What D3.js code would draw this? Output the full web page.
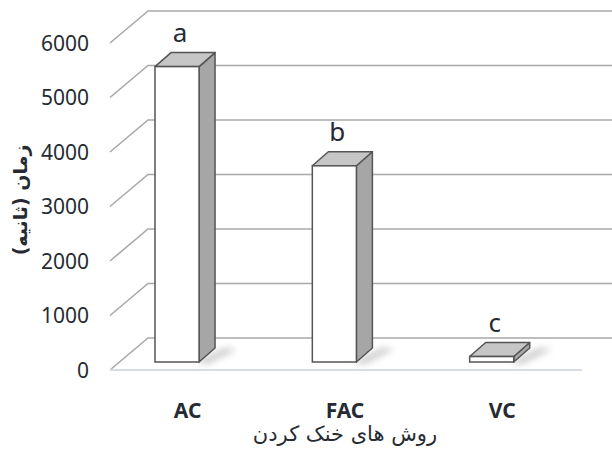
<!DOCTYPE html>
<html>
<head>
<meta charset="utf-8">
<script src="https://cdn.jsdelivr.net/npm/d3@7"></script>
<style>
  body { margin: 0; background: #fff; }
  svg { display: block; }
</style>
</head>
<body>
<div class="canvas"><svg width="612" height="468"></svg></div>
<script>
// data
var categories = ["AC", "FAC", "VC"];
var values = [5420, 3600, 100];
var letters = ["a", "b", "c"];
var yTicks = [0, 1000, 2000, 3000, 4000, 5000, 6000];
var xTitle = "روش های خنک کردن";
var yTitle = "زمان (ثانیه)";

var svg = d3.select(".canvas").select("svg");

// front plane of the 3D box
var left = 110, right = 582;
var depthX = 38, depthY = -32;   // floor depth (front -> back wall)
var barOffY = -8;                // bar front sits a bit inside the floor
var barDX = 16, barDY = -14;     // bar depth

var x = d3.scaleBand().domain(categories).range([left, right]).padding(0);
var y = d3.scaleLinear().domain([0, 6000]).range([370, 43]);

var textColor = "#262b33";

// shadow filter
var defs = svg.append("defs");
defs.append("filter").attr("id", "blur")
  .attr("x", "-50%").attr("y", "-50%").attr("width", "200%").attr("height", "200%")
  .append("feGaussianBlur").attr("stdDeviation", 3.5);

// gridlines: diagonal on the side wall + line on the back wall
var grid = svg.append("g");
yTicks.forEach(function(t) {
  var y0 = y(t);
  grid.append("polyline")
    .attr("points", [[left, y0], [left + depthX, y0 + depthY], [612, y0 + depthY]].join(" "))
    .style("fill", "none")
    .style("stroke", "#a9a9a9")
    .style("stroke-width", 1.6);
});

// front edge of the floor
svg.append("line")
  .attr("x1", left).attr("x2", right)
  .attr("y1", y(0)).attr("y2", y(0))
  .style("stroke", "#d8dde5")
  .style("stroke-width", 2);

// y tick labels
svg.append("g").selectAll("text")
  .data(yTicks)
  .join("text")
  .attr("x", 89)
  .attr("y", function(d) { return y(d); })
  .attr("dy", "0.36em")
  .attr("text-anchor", "end")
  .style("font-family", "'Noto Sans', sans-serif")
  .style("font-size", "21px")
  .style("fill", textColor)
  .text(function(d) { return d; });

// bars
var bw = x.bandwidth() * 0.28;
var bars = svg.append("g").selectAll("g")
  .data(categories)
  .join("g");

bars.each(function(c, i) {
  var g = d3.select(this);
  var x0 = x(c) + x.bandwidth() * 0.286; // front-left
  var x1 = x0 + bw;
  var yb = y(0) + barOffY;
  var yt = y(values[i]) + barOffY;

  // soft shadow at the foot
  g.append("polygon")
    .attr("points", [[x1 - 4, yb], [x1 + barDX + 10, yb + barDY], [x1 + barDX + 22, yb + barDY + 1], [x1 + 8, yb + 2]].join(" "))
    .style("fill", "#666")
    .style("opacity", 0.35)
    .attr("filter", "url(#blur)");

  // side
  g.append("polygon")
    .attr("points", [[x1, yb], [x1 + barDX, yb + barDY], [x1 + barDX, yt + barDY], [x1, yt]].join(" "))
    .style("fill", "#a6a6a6")
    .style("stroke", "#555")
    .style("stroke-width", 1.5)
    .style("stroke-linejoin", "round");

  // top
  g.append("polygon")
    .attr("points", [[x0, yt], [x0 + barDX, yt + barDY], [x1 + barDX, yt + barDY], [x1, yt]].join(" "))
    .style("fill", "#c6c6c6")
    .style("stroke", "#555")
    .style("stroke-width", 1.5)
    .style("stroke-linejoin", "round");

  // front
  g.append("rect")
    .attr("x", x0).attr("y", yt)
    .attr("width", bw).attr("height", yb - yt)
    .style("fill", "#fff")
    .style("stroke", "#555")
    .style("stroke-width", 1.5);

  // significance letter
  g.append("text")
    .attr("x", x0 + bw / 2 + 3)
    .attr("y", yt + barDY - 11)
    .attr("text-anchor", "middle")
    .style("font-family", "'Noto Sans', sans-serif")
    .style("font-size", "26px")
    .style("fill", textColor)
    .text(letters[i]);
});

// category labels
svg.append("g").selectAll("text")
  .data(categories)
  .join("text")
  .attr("x", function(d) { return x(d) + x.bandwidth() / 2 - 1; })
  .attr("y", 418)
  .attr("text-anchor", "middle")
  .style("font-family", "'Noto Sans', sans-serif")
  .style("font-weight", "bold")
  .style("font-size", "21px")
  .style("fill", textColor)
  .text(function(d) { return d; });

// axis titles
svg.append("text")
  .attr("x", 345)
  .attr("y", 441)
  .attr("text-anchor", "middle")
  .attr("direction", "rtl")
  .style("font-family", "'DejaVu Sans', sans-serif")
  .style("font-size", "21px")
  .style("fill", textColor)
  .text(xTitle);

svg.append("text")
  .attr("transform", "translate(27,200) rotate(-90)")
  .attr("text-anchor", "middle")
  .attr("direction", "rtl")
  .style("font-family", "'DejaVu Sans', sans-serif")
  .style("font-weight", "bold")
  .style("font-size", "19px")
  .style("fill", textColor)
  .text(yTitle);
</script>
</body>
</html>
